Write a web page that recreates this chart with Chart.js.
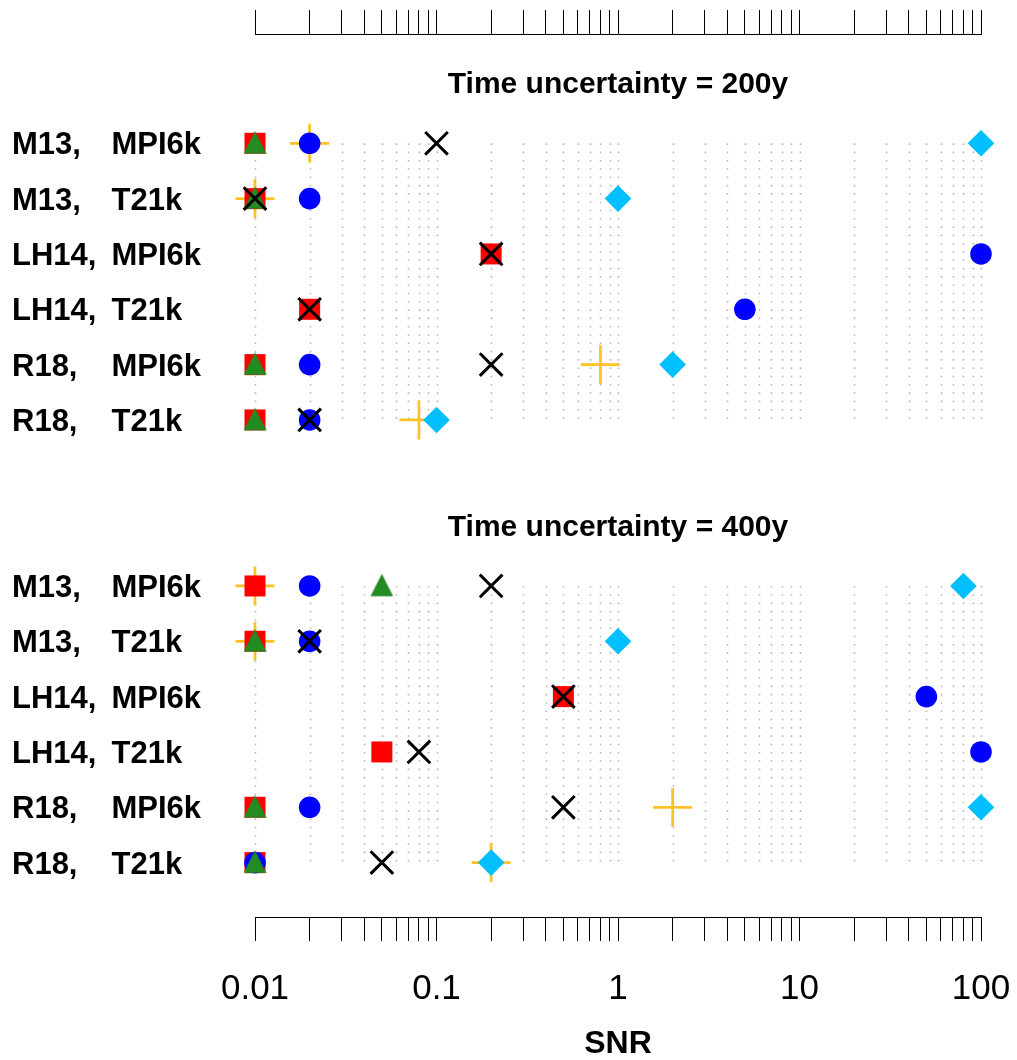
<!DOCTYPE html>
<html>
<head>
<meta charset="utf-8">
<script src="https://cdn.jsdelivr.net/npm/chart.js@4.4.1/dist/chart.umd.min.js"></script>
<style>
  html, body { margin: 0; padding: 0; background: #fff; }
  #snr { display: block; }
</style>
</head>
<body>
<canvas id="snr" width="1017" height="1060"></canvas>
<script>
const panelTitles = ["Time uncertainty = 200y", "Time uncertainty = 400y"];
const reconstructions = ["M13,", "M13,", "LH14,", "LH14,", "R18,", "R18,"];
const models = ["MPI6k", "T21k", "MPI6k", "T21k", "MPI6k", "T21k"];

// SNR per row (same row order as above), null = not shown
const plus200 = [0.02, 0.01, null, null, 0.8, 0.08];
const circle200 = [0.02, 0.02, 100, 5, 0.02, 0.02];
const square200 = [0.01, 0.01, 0.2, 0.02, 0.01, 0.01];
const triangle200 = [0.01, 0.01, null, null, 0.01, 0.01];
const cross200 = [0.1, 0.01, 0.2, 0.02, 0.2, 0.02];
const diamond200 = [100, 1, null, null, 2, 0.1];

const plus400 = [0.01, 0.01, null, null, 2, 0.2];
const circle400 = [0.02, 0.02, 50, 100, 0.02, 0.01];
const square400 = [0.01, 0.01, 0.5, 0.05, 0.01, 0.01];
const triangle400 = [0.05, 0.01, null, null, 0.01, 0.01];
const cross400 = [0.2, 0.02, 0.5, 0.08, 0.5, 0.05];
const diamond400 = [80, 1, null, null, 100, 0.2];

const tickValues = [
  0.01, 0.02, 0.03, 0.04, 0.05, 0.06, 0.07, 0.08, 0.09,
  0.1, 0.2, 0.3, 0.4, 0.5, 0.6, 0.7, 0.8, 0.9,
  1, 2, 3, 4, 5, 6, 7, 8, 9,
  10, 20, 30, 40, 50, 60, 70, 80, 90, 100
];
const majorTicks = [0.01, 0.1, 1, 10, 100];
const tickLabels = ["0.01", "0.1", "1", "10", "100"];

const FONT = "'Liberation Sans', Arial, Helvetica, sans-serif";
Chart.defaults.font.family = FONT;
Chart.defaults.color = '#000';

// row i of panel p sits at y = p*8 + i + 1
function toPoints(values, panel) {
  const pts = [];
  values.forEach((v, i) => {
    if (v !== null) pts.push({ x: v, y: panel * 8 + i + 1 });
  });
  return pts;
}

// filled triangle like R's pch 17
const tri = document.createElement('canvas');
tri.width = 23; tri.height = 25;
const tctx = tri.getContext('2d');
tctx.fillStyle = '#228B22';
tctx.beginPath();
tctx.moveTo(11.5, 0.3);
tctx.lineTo(22.8, 22.8);
tctx.lineTo(0.2, 22.8);
tctx.closePath();
tctx.fill();

function marker(values200, values400, style) {
  return Object.assign({
    data: toPoints(values200, 0).concat(toPoints(values400, 1)),
    showLine: false,
    clip: false,
    pointHoverRadius: style.pointRadius
  }, style);
}

// lower order is drawn on top
const datasets = [
  marker(plus200, plus400, { order: 6, pointStyle: 'cross', pointRadius: 19.5,
    pointBorderColor: '#FFC125', pointBorderWidth: 2.7 }),
  marker(square200, square400, { order: 5, pointStyle: 'rect', pointRadius: 14.85,
    pointBackgroundColor: '#FF0000', pointBorderWidth: 0 }),
  marker(circle200, circle400, { order: 4, pointStyle: 'circle', pointRadius: 10.8,
    pointBackgroundColor: '#0000FF', pointBorderWidth: 0 }),
  marker(triangle200, triangle400, { order: 3, pointStyle: tri, pointRadius: 12 }),
  marker(cross200, cross400, { order: 2, pointStyle: 'crossRot', pointRadius: 16,
    pointBorderColor: '#000000', pointBorderWidth: 3 }),
  marker(diamond200, diamond400, { order: 1, pointStyle: 'rectRot', pointRadius: 13.3,
    pointBackgroundColor: '#00BFFF', pointBorderWidth: 0 })
];

const decor = {
  id: 'decor',
  beforeDatasetsDraw(chart) {
    const { ctx, scales: { x, y } } = chart;
    ctx.save();
    ctx.strokeStyle = '#b8b8b8';
    ctx.lineWidth = 1.6;
    ctx.setLineDash([1.6, 6.7]);
    [0, 1].forEach(p => {
      const y0 = y.getPixelForValue(p * 8 + 1);
      const y1 = y.getPixelForValue(p * 8 + 6);
      tickValues.forEach(v => {
        const px = Math.round(x.getPixelForValue(v)) + 0.5;
        ctx.beginPath();
        ctx.moveTo(px, y0);
        ctx.lineTo(px, y1);
        ctx.stroke();
      });
    });
    ctx.restore();
  },
  afterDraw(chart) {
    const { ctx, chartArea, scales: { y } } = chart;
    ctx.save();
    ctx.fillStyle = '#000';
    ctx.textBaseline = 'alphabetic';
    ctx.font = "bold 30px " + FONT;
    ctx.textAlign = 'center';
    panelTitles.forEach((t, p) => {
      ctx.fillText(t, (chartArea.left + chartArea.right) / 2, y.getPixelForValue(p * 8) + 5);
    });
    ctx.font = "bold 31px " + FONT;
    ctx.textAlign = 'left';
    [0, 1].forEach(p => {
      reconstructions.forEach((r, i) => {
        const py = y.getPixelForValue(p * 8 + i + 1) + 11;
        ctx.fillText(r, 12, py);
        ctx.fillText(models[i], 111.5, py);
      });
    });
    ctx.restore();
  }
};

const axisTicks = s => { s.ticks = tickValues.map(v => ({ value: v })); };

new Chart(document.getElementById('snr'), {
  type: 'scatter',
  data: { datasets },
  options: {
    responsive: false,
    devicePixelRatio: 1,
    animation: false,
    events: [],
    layout: { padding: { left: 255, right: 36, top: 10, bottom: 0 } },
    plugins: { legend: { display: false }, tooltip: { enabled: false } },
    scales: {
      x: {
        type: 'logarithmic', position: 'bottom', min: 0.01, max: 100,
        afterBuildTicks: axisTicks,
        grid: { drawOnChartArea: false, drawTicks: true, tickLength: 24, color: '#000', lineWidth: 1 },
        border: { display: true, color: '#000', width: 1 },
        ticks: {
          autoSkip: false, maxRotation: 0, padding: 3, color: '#000',
          font: { size: 35, lineHeight: 90 / 35 },
          callback: v => {
            const i = majorTicks.indexOf(v);
            return i < 0 ? '' : tickLabels[i];
          }
        },
        title: {
          display: true, text: 'SNR', color: '#000',
          font: { size: 32, weight: 'bold', lineHeight: 1 },
          padding: { top: -9, bottom: 0 }
        }
      },
      x2: {
        type: 'logarithmic', position: 'top', min: 0.01, max: 100,
        afterBuildTicks: axisTicks,
        grid: { drawOnChartArea: false, drawTicks: true, tickLength: 24, color: '#000', lineWidth: 1 },
        border: { display: true, color: '#000', width: 1 },
        ticks: { display: false }
      },
      y: { type: 'linear', min: -0.975, max: 14.983, reverse: true, display: false }
    }
  },
  plugins: [decor]
});
</script>
</body>
</html>
